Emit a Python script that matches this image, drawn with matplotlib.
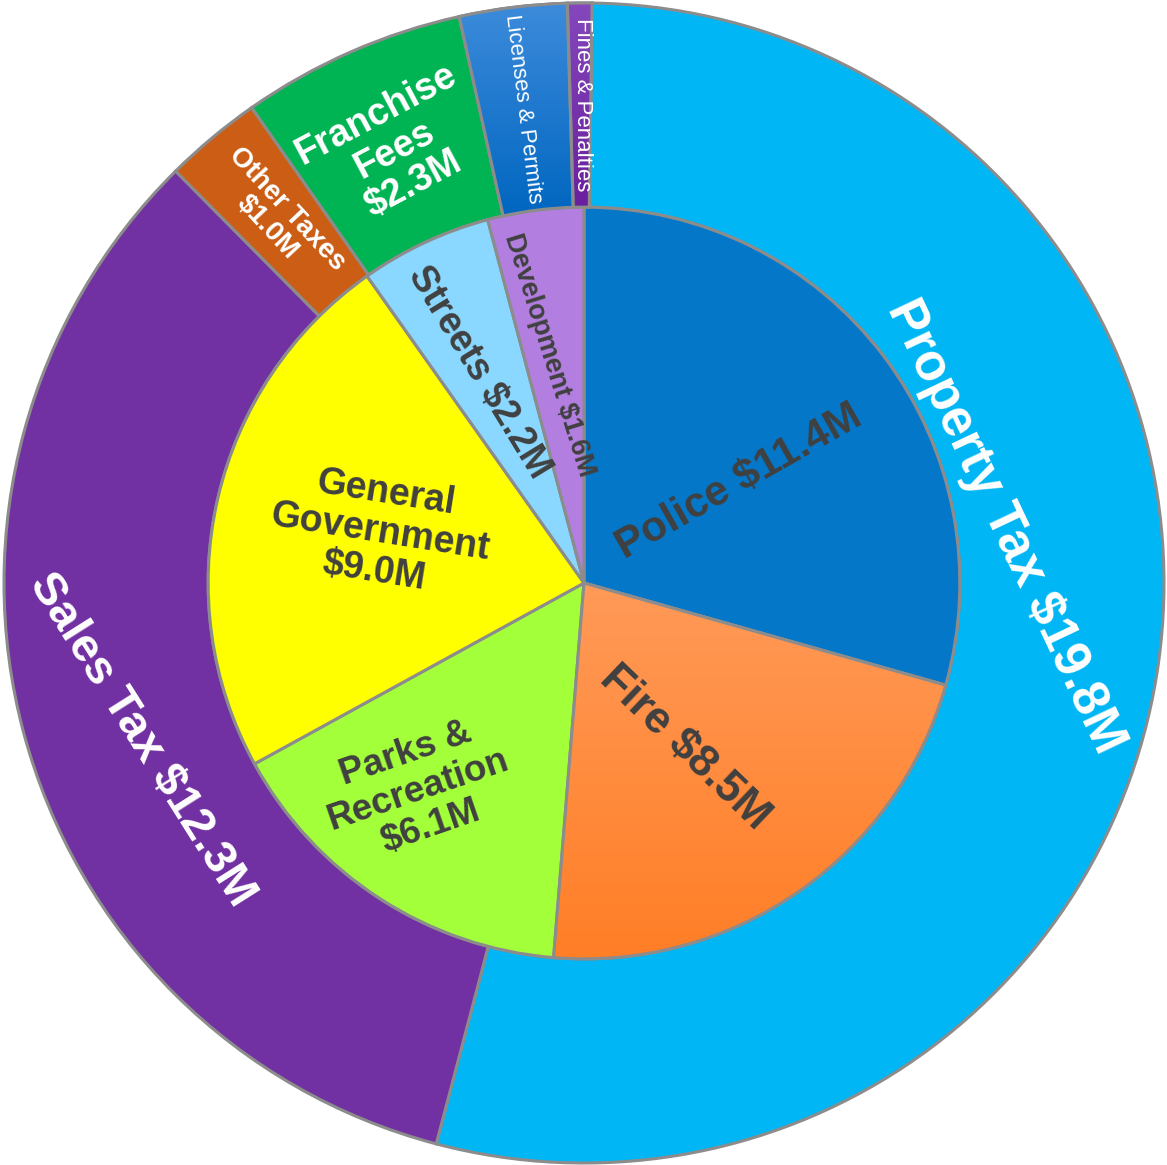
import numpy as np
import matplotlib
matplotlib.use("Agg")
import matplotlib.pyplot as plt
from matplotlib.patches import Wedge
from matplotlib.colors import LinearSegmentedColormap

plt.rcParams["font.family"] = ["Liberation Sans", "DejaVu Sans"]

# revenue (outer ring), $M
revenue_names = ["Property Tax", "Sales Tax", "Other Taxes", "Franchise Fees",
                 "Licenses & Permits", "Fines & Penalties"]
revenue_values = [19.8, 12.3, 1.0, 2.3, 1.1, 0.25]
revenue_colors = ["#00B6F4", "#7231A2", "#CB5E14", "#00B453", "#1174CC", "#7430A6"]

# spending (inner pie), $M
spend_names = ["Police", "Fire", "Parks & Recreation", "General Government",
               "Streets", "Development"]
spend_values = [11.4, 8.5, 6.1, 9.0, 2.2, 1.6]
spend_colors = ["#0477C9", "#FF8C45", "#A2FF3A", "#FFFF00", "#8AD7FF", "#B27FE0"]

edge = "#8C8C8C"
inner_r = 0.648

fig = plt.figure(figsize=(11.67, 11.65), dpi=100)
ax = fig.add_axes([0, 0, 1, 1])

outer, _ = ax.pie(revenue_values, radius=1.0, startangle=89.2, counterclock=False,
                  colors=revenue_colors,
                  wedgeprops=dict(width=1 - inner_r, edgecolor=edge, linewidth=2.2))
inner, _ = ax.pie(spend_values, radius=inner_r, startangle=90, counterclock=False,
                  colors=spend_colors,
                  wedgeprops=dict(edgecolor=edge, linewidth=2.2))


def shade(w, top, bottom):
    # vertical gradient inside a wedge, then put the outline back on top
    ext = w.get_path().get_extents()
    grad = np.linspace(1, 0, 256).reshape(-1, 1)
    cmap = LinearSegmentedColormap.from_list("g", [bottom, top])
    im = ax.imshow(grad, extent=(ext.x0, ext.x1, ext.y0, ext.y1), cmap=cmap,
                   aspect="auto", zorder=w.get_zorder() + 0.1, origin="upper")
    im.set_clip_path(w)
    ax.add_patch(Wedge(w.center, w.r, w.theta1, w.theta2, width=w.width,
                       fill=False, edgecolor=edge, linewidth=2.2,
                       zorder=w.get_zorder() + 0.2))


shade(inner[1], "#FF9A58", "#FF7E26")
shade(outer[4], "#3D8BDB", "#0066C0")
shade(outer[5], "#8448BC", "#6A1F9E")

white = dict(color="white", fontweight="bold", ha="center", va="center")
dark = dict(color="#404040", fontweight="bold", ha="center", va="center")

ax.text(0.726, 0.098, "Property Tax $19.8M", fontsize=37, rotation=-64.7, **white)
ax.text(-0.762, -0.271, "Sales Tax $12.3M", fontsize=34, rotation=-57.7, **white)
ax.text(-0.529, 0.629, "Other Taxes\n$1.0M", fontsize=20, rotation=-47,
        linespacing=1.1, **white)
ax.text(-0.326, 0.747, "Franchise\nFees\n$2.3M", fontsize=27, rotation=28,
        linespacing=1.12, **white)
ax.text(-0.105, 0.817, "Licenses & Permits", fontsize=16, rotation=-83,
        color="white", ha="center", va="center")
ax.text(-0.003, 0.824, "Fines & Penalties", fontsize=16, rotation=-90,
        color="white", ha="center", va="center")

ax.text(0.267, 0.174, "Police $11.4M", fontsize=30.5, rotation=29.6, **dark)
ax.text(0.174, -0.284, "Fire $8.5M", fontsize=32, rotation=-43.7, **dark)
ax.text(-0.352, 0.088, "General\nGovernment\n$9.0M", fontsize=27, rotation=-9,
        linespacing=1.12, **dark)
ax.text(-0.286, -0.357, "Parks &\nRecreation\n$6.1M", fontsize=26.5, rotation=19,
        linespacing=1.12, **dark)
ax.text(-0.181, 0.364, "Streets $2.2M", fontsize=27, rotation=-58.6, **dark)
ax.text(-0.060, 0.393, "Development $1.6M", fontsize=19.5, rotation=-72.7, **dark)

ax.set_aspect("auto")
ax.set_xlim(-584 / 580, (1167 - 584) / 580)
ax.set_ylim(-(1165 - 583) / 580, 583 / 580)
ax.axis("off")

fig.savefig("out.png", dpi=100)
